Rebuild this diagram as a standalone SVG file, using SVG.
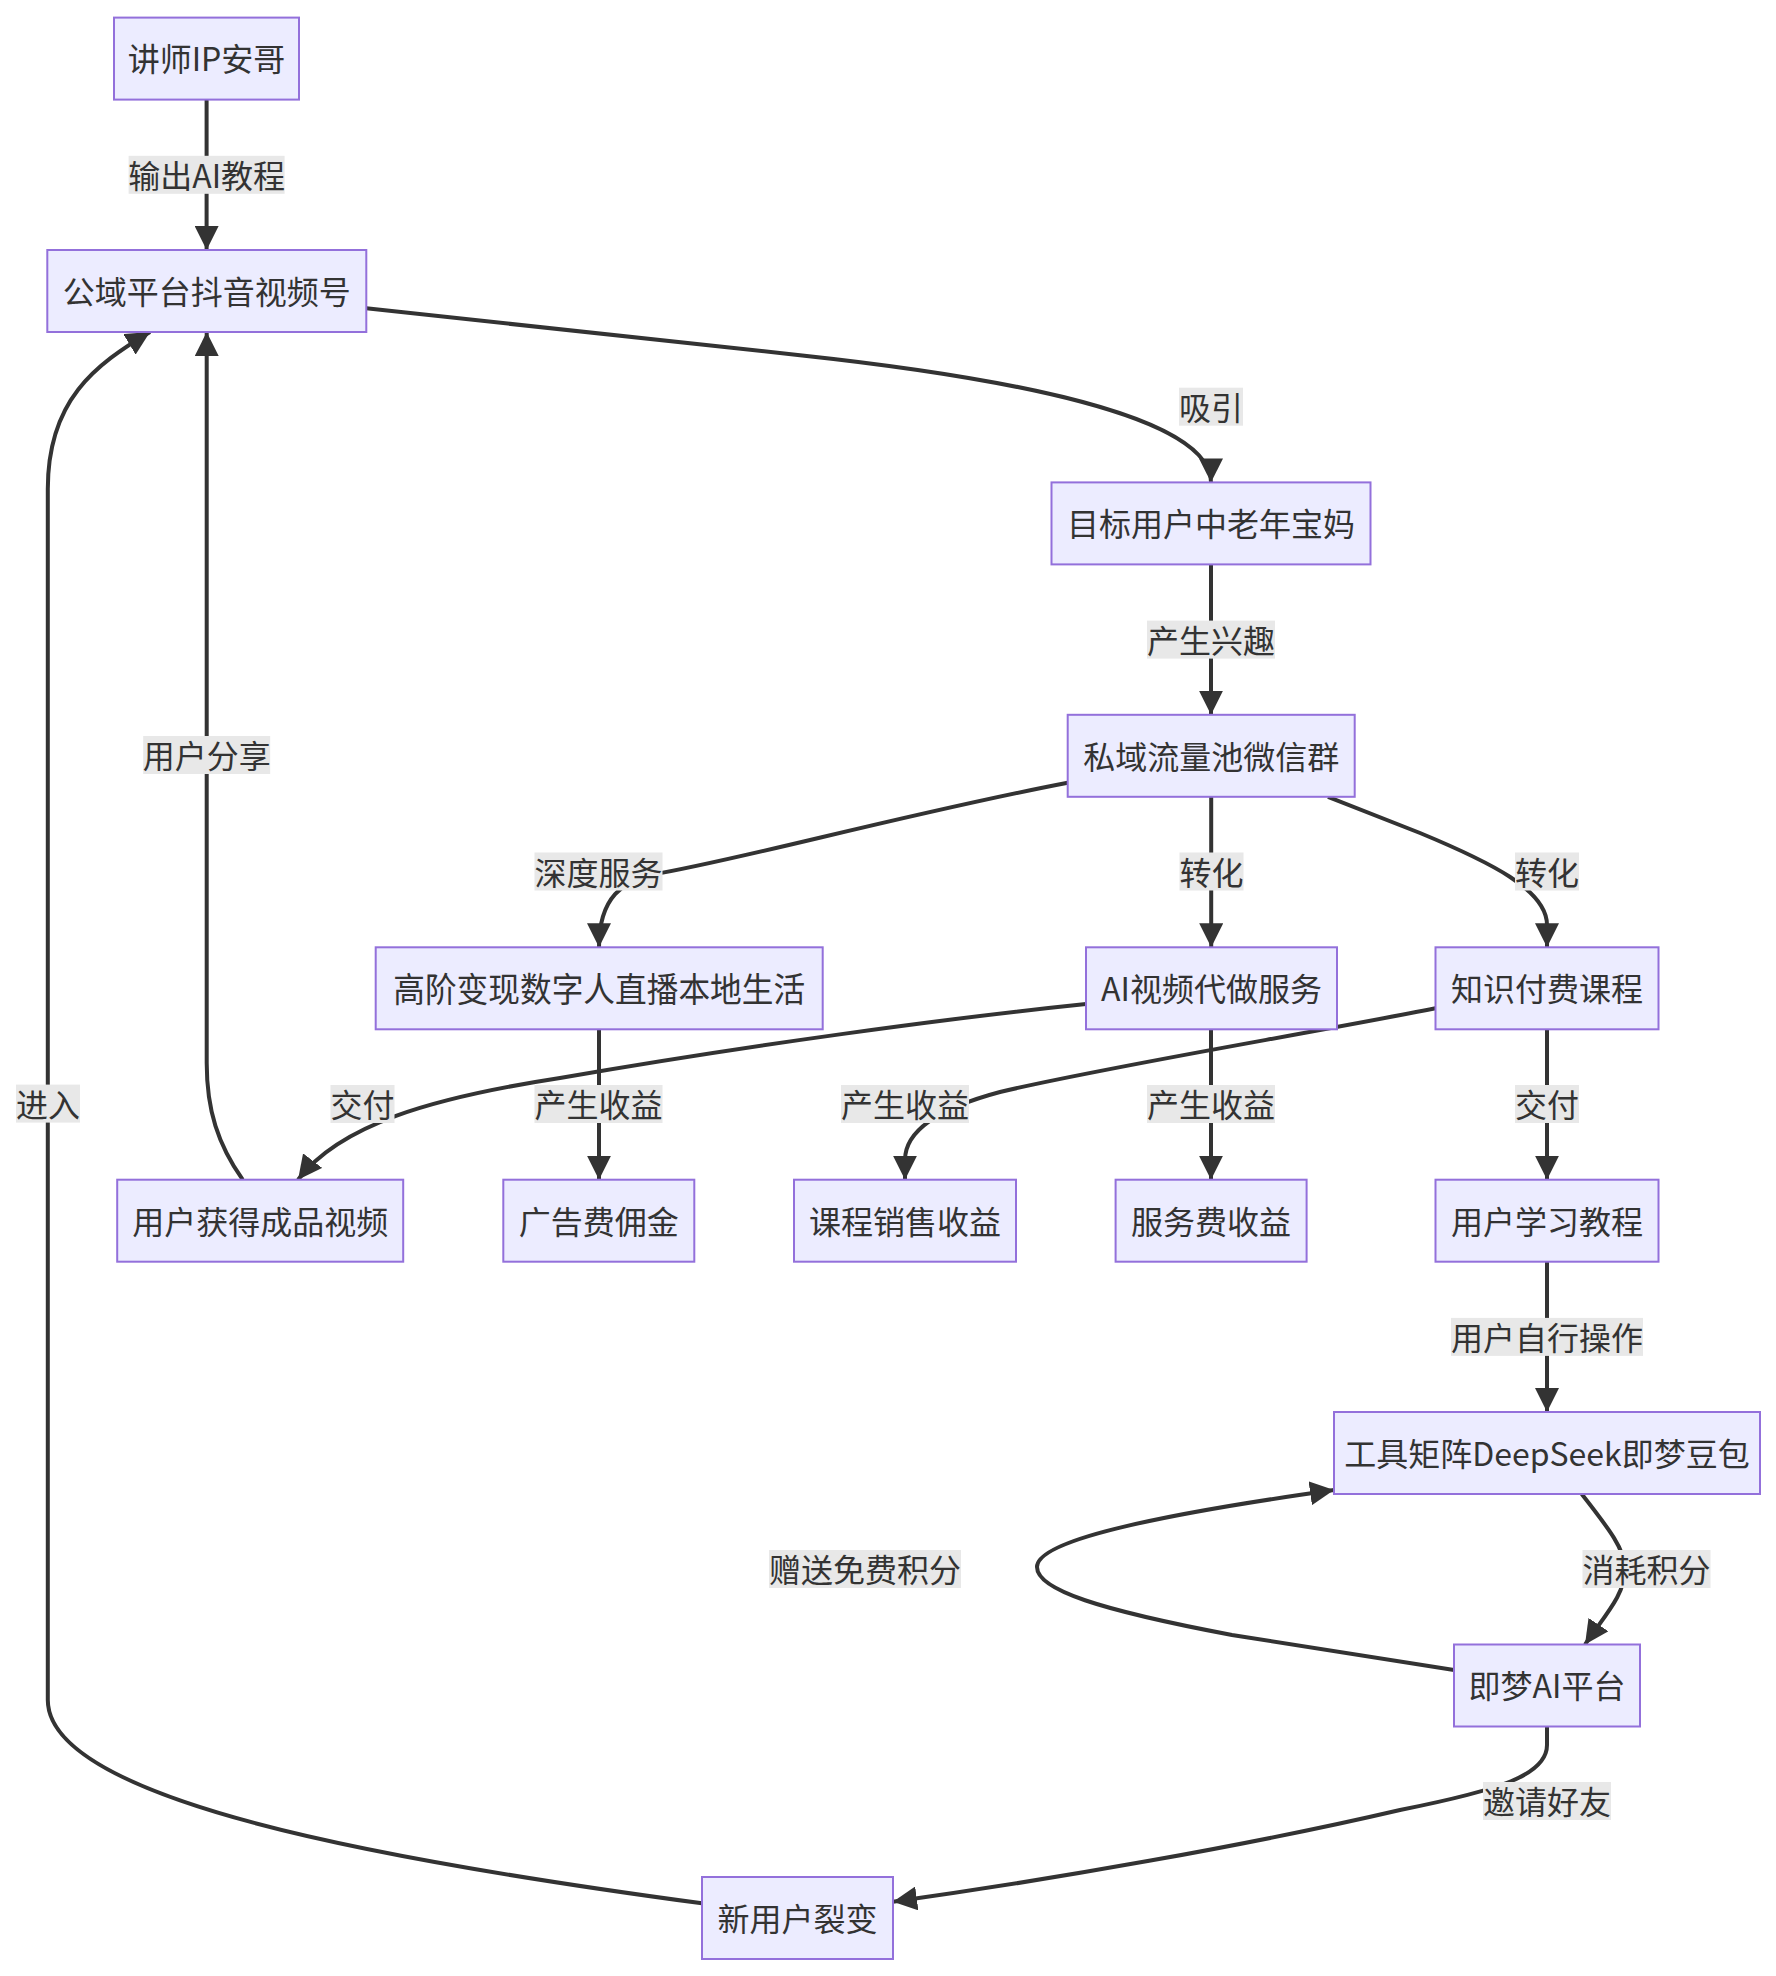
<svg xmlns="http://www.w3.org/2000/svg" width="1776" height="1976" viewBox="0 0 1776 1976">
<defs>
<style>
.node rect{fill:#ECECFF;stroke:#9370DB;stroke-width:2}
text{font-family:"Noto Sans CJK SC","Noto Sans",sans-serif;font-size:32px;fill:#333;text-anchor:middle;dominant-baseline:central}
.edge{fill:none;stroke:#333;stroke-width:4;marker-end:url(#arr)}
.lbl rect{fill:#e8e8e8}
</style>
<marker id="arr" viewBox="0 0 10 10" refX="10" refY="5" markerUnits="userSpaceOnUse" markerWidth="24" markerHeight="24" orient="auto">
<path d="M0,0 L10,5 L0,10 z" fill="#333"/>
</marker>
</defs>
<rect width="1776" height="1976" fill="#fff"/>
<g id="connectors">
<path class="edge" d="M206.6,99.6 L206.6,250"/>
<path class="edge" d="M366.3,308.3 L800,355.2 C1000,376.8 1211,415 1211,482.4"/>
<path class="edge" d="M1211,564.4 L1211,714.8"/>
<path class="edge" d="M1067.7,782.7 C900,815 740,860 650,875 C625,882 599,895 599,947.3"/>
<path class="edge" d="M1211.2,796.8 L1211.2,947.3"/>
<path class="edge" d="M1328,796.8 L1420,833 C1490,862 1547,890 1547,925 L1547,947.3"/>
<path class="edge" d="M1086,1004 C950,1018 750,1045 560,1078 C430,1098 340,1125 298,1179.7"/>
<path class="edge" d="M599,1029.3 L599,1179.7"/>
<path class="edge" d="M1435.5,1008.3 C1300,1035 1100,1068 1000,1092 C940,1108 905,1130 905,1160 L905,1179.7"/>
<path class="edge" d="M1211,1029.3 L1211,1179.7"/>
<path class="edge" d="M1547,1029.3 L1547,1179.7"/>
<path class="edge" d="M242.7,1179.7 C218,1145 206.7,1110 206.7,1063 L206.7,332"/>
<path class="edge" d="M1547,1261.7 L1547,1412"/>
<path class="edge" d="M1581.7,1494 C1610,1530 1625,1550 1625,1569 C1625,1595 1605,1615 1585,1644.5"/>
<path class="edge" d="M1454,1670 L1232,1635 C1100,1610 1037,1590 1037,1567 C1037,1545 1120,1520 1334,1490"/>
<path class="edge" d="M1547,1726.5 L1547,1745 C1547,1775 1500,1790 1400,1810 C1250,1845 1050,1880 893,1901.7"/>
<path class="edge" d="M702,1903.3 C380,1860 48,1800 47.8,1700 L47.8,489 C47.8,400 95,365 150,332"/>
<g class="lbl"><rect x="128.6" y="155.8" width="156" height="38"/><text x="206.6" y="173.8">输出AI教程</text></g>
<g class="lbl"><rect x="1179" y="387.7" width="64" height="38"/><text x="1211" y="405.7">吸引</text></g>
<g class="lbl"><rect x="1147" y="620.6" width="128" height="38"/><text x="1211" y="638.6">产生兴趣</text></g>
<g class="lbl"><rect x="534.5" y="852.5" width="128" height="38"/><text x="598.5" y="870.5">深度服务</text></g>
<g class="lbl"><rect x="1179.5" y="852.5" width="64" height="38"/><text x="1211.5" y="870.5">转化</text></g>
<g class="lbl"><rect x="1515" y="852.5" width="64" height="38"/><text x="1547" y="870.5">转化</text></g>
<g class="lbl"><rect x="143.2" y="736" width="127" height="38"/><text x="206.7" y="754">用户分享</text></g>
<g class="lbl"><rect x="16" y="1084.6" width="64" height="38"/><text x="48" y="1102.6">进入</text></g>
<g class="lbl"><rect x="330.5" y="1085" width="64" height="38"/><text x="362.5" y="1103">交付</text></g>
<g class="lbl"><rect x="534.5" y="1085" width="128" height="38"/><text x="598.5" y="1103">产生收益</text></g>
<g class="lbl"><rect x="841" y="1085" width="128" height="38"/><text x="905" y="1103">产生收益</text></g>
<g class="lbl"><rect x="1147" y="1085" width="128" height="38"/><text x="1211" y="1103">产生收益</text></g>
<g class="lbl"><rect x="1515" y="1085" width="64" height="38"/><text x="1547" y="1103">交付</text></g>
<g class="lbl"><rect x="1451" y="1317.9" width="192" height="38"/><text x="1547" y="1335.9">用户自行操作</text></g>
<g class="lbl"><rect x="769" y="1550" width="192" height="38"/><text x="865" y="1568">赠送免费积分</text></g>
<g class="lbl"><rect x="1582.5" y="1550" width="128" height="38"/><text x="1646.5" y="1568">消耗积分</text></g>
<g class="lbl"><rect x="1483" y="1782" width="128" height="38"/><text x="1547" y="1800">邀请好友</text></g>
</g>
<g id="n1" class="node"><rect x="114" y="17.6" width="185" height="82"/><text x="206.5" y="57.4">讲师IP安哥</text></g>
<g id="n2" class="node"><rect x="47.3" y="250" width="319" height="82"/><text x="206.8" y="289.8">公域平台抖音视频号</text></g>
<g id="n3" class="node"><rect x="1051.5" y="482.4" width="319" height="82"/><text x="1211" y="522.2">目标用户中老年宝妈</text></g>
<g id="n4" class="node"><rect x="1067.7" y="714.8" width="287" height="82"/><text x="1211.2" y="754.6">私域流量池微信群</text></g>
<g id="n5" class="node"><rect x="375.7" y="947.3" width="447" height="82"/><text x="599.2" y="987.1" textLength="412" lengthAdjust="spacingAndGlyphs" style="font-size:34px">高阶变现数字人直播本地生活</text></g>
<g id="n6" class="node"><rect x="1086" y="947.3" width="251" height="82"/><text x="1211.5" y="987.1">AI视频代做服务</text></g>
<g id="n7" class="node"><rect x="1435.5" y="947.3" width="223" height="82"/><text x="1547" y="987.1">知识付费课程</text></g>
<g id="n8" class="node"><rect x="117.2" y="1179.7" width="286" height="82"/><text x="260.2" y="1219.5">用户获得成品视频</text></g>
<g id="n9" class="node"><rect x="503.3" y="1179.7" width="191" height="82"/><text x="598.8" y="1219.5">广告费佣金</text></g>
<g id="n10" class="node"><rect x="794" y="1179.7" width="222" height="82"/><text x="905" y="1219.5">课程销售收益</text></g>
<g id="n11" class="node"><rect x="1115.6" y="1179.7" width="191" height="82"/><text x="1211.1" y="1219.5">服务费收益</text></g>
<g id="n12" class="node"><rect x="1435.5" y="1179.7" width="223" height="82"/><text x="1547" y="1219.5">用户学习教程</text></g>
<g id="n13" class="node"><rect x="1334" y="1412" width="426" height="82"/><text x="1547" y="1451.8">工具矩阵DeepSeek即梦豆包</text></g>
<g id="n14" class="node"><rect x="1454" y="1644.5" width="186" height="82"/><text x="1547" y="1684.3">即梦AI平台</text></g>
<g id="n15" class="node"><rect x="702" y="1877" width="191" height="82"/><text x="797.5" y="1916.8">新用户裂变</text></g>
</svg>
